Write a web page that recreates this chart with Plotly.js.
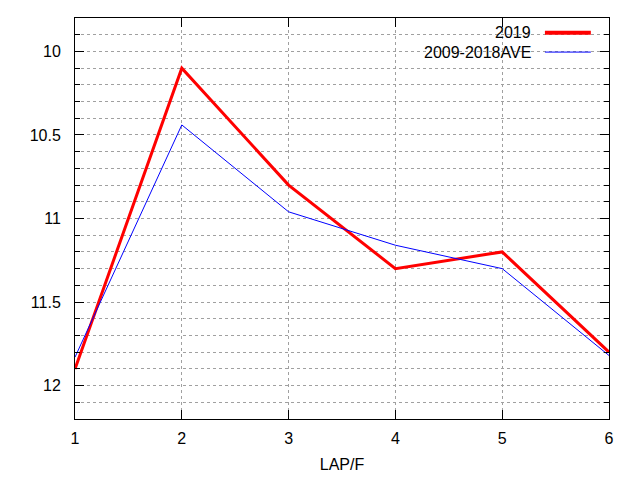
<!DOCTYPE html>
<html>
<head>
<meta charset="utf-8">
<script src="https://cdn.plot.ly/plotly-3.0.1.min.js"></script>
<style>
  body { margin: 0; background: #fff; }
  #chart { width: 640px; height: 480px; }
</style>
</head>
<body>
<div id="chart"></div>
<script>
var laps = [1, 2, 3, 4, 5, 6];
var y2019 = [11.9, 10.1, 10.8, 11.3, 11.2, 11.8];
var yAve = [11.83, 10.44, 10.96, 11.16, 11.3, 11.82];
var seriesNames = ['2019', '2009-2018AVE'];
var yTicks = [10, 10.5, 11, 11.5, 12];

var gridStyle = {
	showgrid: true,
	gridcolor: '#a0a0a0',
	gridwidth: 1,
	griddash: '3px,3px'
};

var data = [
	{
		x: laps,
		y: y2019,
		type: 'scatter',
		mode: 'lines',
		name: seriesNames[0],
		line: {color: '#ff0000', width: 3}
	},
	{
		x: laps,
		y: yAve,
		type: 'scatter',
		mode: 'lines',
		name: seriesNames[1],
		line: {color: '#0000ff', width: 1}
	}
];

var layout = {
	width: 640,
	height: 480,
	margin: {l: 75, r: 31, t: 18, b: 61},
	paper_bgcolor: '#fff',
	plot_bgcolor: '#fff',
	showlegend: false,
	font: {family: 'Liberation Sans, Arial, sans-serif', size: 16, color: '#000'},
	xaxis: Object.assign({
		range: [1, 6],
		tickvals: laps,
		ticks: 'inside',
		ticklen: 9,
		tickcolor: '#000',
		showline: true,
		linecolor: '#000',
		linewidth: 1,
		mirror: 'allticks',
		zeroline: false,
		ticklabelstandoff: 5,
		title: {text: 'LAP/F', standoff: 12, font: {size: 16}}
	}, gridStyle),
	yaxis: Object.assign({
		range: [12.2, 9.8],
		tickvals: yTicks,
		ticks: 'inside',
		ticklen: 9,
		tickcolor: '#000',
		showline: true,
		linecolor: '#000',
		linewidth: 1,
		mirror: 'allticks',
		zeroline: false,
		ticklabelstandoff: 10,
		minor: {
			dtick: 0.1,
			ticks: 'inside',
			ticklen: 5,
			tickcolor: '#000',
			showgrid: true,
			gridcolor: '#a0a0a0',
			gridwidth: 1,
			griddash: '3px,3px'
		}
	}, gridStyle),
	shapes: [
		// white key box behind the legend, like gnuplot does
		{type: 'rect', xref: 'paper', yref: 'paper', x0: 0.62, x1: 0.985, y0: 0.895, y1: 0.99,
		 fillcolor: '#fff', line: {width: 0}, layer: 'between'},
		{type: 'line', xref: 'paper', yref: 'paper', x0: 0.880, x1: 0.966, y0: 0.963, y1: 0.963,
		 line: {color: '#ff0000', width: 4}},
		{type: 'line', xref: 'paper', yref: 'paper', x0: 0.880, x1: 0.966, y0: 0.915, y1: 0.915,
		 line: {color: '#0000ff', width: 1}}
	],
	annotations: [
		{xref: 'paper', yref: 'paper', x: 0.858, y: 0.963, xanchor: 'right', yanchor: 'middle',
		 text: seriesNames[0], showarrow: false, font: {size: 16}},
		{xref: 'paper', yref: 'paper', x: 0.858, y: 0.915, xanchor: 'right', yanchor: 'middle',
		 text: seriesNames[1], showarrow: false, font: {size: 16}}
	]
};

var config = {staticPlot: true, displayModeBar: false};

Plotly.newPlot('chart', data, layout, config);
</script>
</body>
</html>
